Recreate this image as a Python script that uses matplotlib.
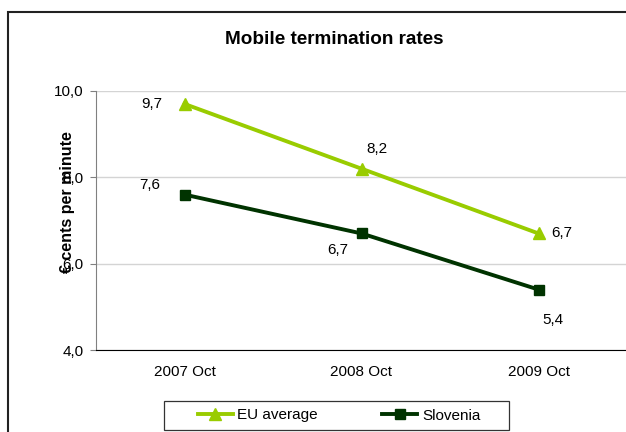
import matplotlib
matplotlib.use("Agg")
import matplotlib.pyplot as plt
from matplotlib.patches import Rectangle
from matplotlib.ticker import FuncFormatter

# data
periods = ['2007 Oct', '2008 Oct', '2009 Oct']
eu_average = [9.7, 8.2, 6.7]
slovenia = [7.6, 6.7, 5.4]
yticks = [4, 6, 8, 10]

# label offsets (pixels) for each data point
eu_offsets = [(-33, 0), (15, 20), (23, 0)]
si_offsets = [(-35, 10), (-24, -17), (14, -30)]

lime = '#99CC00'
dark = '#003300'

plt.rcParams['font.family'] = ['Liberation Sans', 'DejaVu Sans']

fig = plt.figure(figsize=(6.26, 4.32), dpi=100)
ax = fig.add_axes([96 / 626, 82 / 432, 531 / 626, 259 / 432])

x = [0.5, 1.5, 2.5]
ax.plot(x, eu_average, color=lime, lw=2.8, marker='^', ms=9, label='EU average', zorder=3)
ax.plot(x, slovenia, color=dark, lw=2.8, marker='s', ms=7, label='Slovenia', zorder=3)

def fmt(v):
    return ('%.1f' % v).replace('.', ',')

for xi, v, off in zip(x, eu_average, eu_offsets):
    ax.annotate(fmt(v), (xi, v), xytext=off, textcoords='offset pixels',
                ha='center', va='center', fontsize=11)
for xi, v, off in zip(x, slovenia, si_offsets):
    ax.annotate(fmt(v), (xi, v), xytext=off, textcoords='offset pixels',
                ha='center', va='center', fontsize=11)

ax.set_xlim(0, 3)
ax.set_ylim(4, 10)
ax.set_yticks(yticks)
ax.yaxis.set_major_formatter(FuncFormatter(lambda v, p: fmt(v)))
ax.set_xticks(x)
ax.set_xticklabels(periods)
ax.tick_params(axis='x', length=0, pad=11, labelsize=11)
ax.tick_params(axis='y', length=4, pad=5, labelsize=11, color='#808080')
ax.grid(axis='y', color='#d4d4d4', lw=1)
ax.set_axisbelow(True)

for s in ['top', 'right']:
    ax.spines[s].set_visible(False)
ax.spines['left'].set_color('#808080')
ax.spines['bottom'].set_color('#000000')

ax.text(-0.054, 0.571, '€ cents per minute', transform=ax.transAxes, rotation=90,
        ha='center', va='center', fontsize=11.5, fontweight='bold')

fig.text(334 / 626, 1 - 40 / 432, 'Mobile termination rates', ha='center', va='center',
         fontsize=13.6, fontweight='bold')

leg = fig.legend(loc='center', bbox_to_anchor=(339 / 626, 16.5 / 432), ncol=2,
                 fontsize=11, frameon=False, handlelength=2.3,
                 columnspacing=4.2, borderpad=0.2, handletextpad=0.3)

# legend box
fig.patches.append(Rectangle((164 / 626, 2 / 432), 345 / 626, 29 / 432, transform=fig.transFigure,
                             fill=False, edgecolor='#333333', lw=0.9))

# outer chart border
fig.patches.append(Rectangle((8 / 626, -0.1), 1.2, 1 - 12 / 432 + 0.1, transform=fig.transFigure,
                             fill=False, edgecolor='#222222', lw=1.5))

fig.savefig('out.png', dpi=100)
